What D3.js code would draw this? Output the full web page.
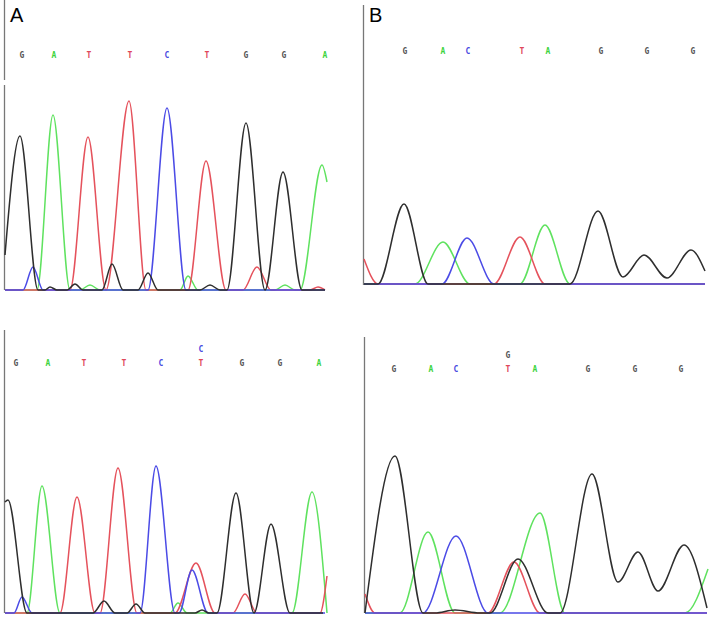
<!DOCTYPE html>
<html>
<head>
<meta charset="utf-8">
<script src="https://cdn.jsdelivr.net/npm/d3@7"></script>
<style>
	body { margin: 0; background: #fff; }
	svg { display: block; }
</style>
</head>
<body>
<div id="container"></div>
<script>
// trace vertices: [scan, signal]
// panel A, top (wild type)
var aTopG = [[0,350],[15,1540],[33,0],[40,0],[45,30],[52,0],[62,0],[70,60],[78,0],[97,0],[107,260],[118,0],[133,0],[143,170],[153,0],[195,0],[205,50],[215,0],[222,0],[241,1670],[260,0],[278,1180],[297,0],[320,0]];
var aTopA = [[0,0],[32,0],[48,1750],[65,0],[75,0],[85,50],[95,0],[175,0],[183,140],[193,0],[270,0],[280,50],[290,0],[295,0],[317,1250],[322,1080]];
var aTopT = [[0,0],[65,0],[83,1530],[101,0],[124,1890],[141,0],[183,0],[201,1290],[221,0],[238,0],[252,230],[266,0],[305,0],[313,30],[320,0]];
var aTopC = [[0,0],[18,0],[28,230],[38,0],[143,0],[162,1820],[181,0],[320,0]];

// panel B, top
var bTopG = [[0,0],[14,0],[40,800],[64,0],[206,0],[234,730],[259,70],[280,290],[303,60],[327,340],[341,130]];
var bTopA = [[0,0],[51,0],[79,420],[106,0],[156,0],[181,590],[206,0],[341,0]];
var bTopT = [[0,250],[14,0],[130,0],[156,470],[181,0],[341,0]];
var bTopC = [[0,0],[78,0],[103,460],[130,0],[341,0]];

// panel A, bottom (heterozygous C/T)
var aBotG = [[0,1110],[3,1130],[22,0],[88,0],[99,120],[110,0],[122,0],[131,90],[140,0],[190,0],[197,30],[204,0],[212,0],[231,1200],[249,0],[266,890],[285,0],[318,0]];
var aBotA = [[0,0],[22,0],[37,1270],[55,0],[165,0],[173,100],[182,0],[287,0],[307,1210],[322,0]];
var aBotT = [[0,0],[55,0],[72,1160],[90,0],[95,0],[113,1450],[132,0],[170,0],[191,500],[210,0],[228,0],[240,190],[252,0],[315,0],[322,370]];
var aBotC = [[0,0],[9,0],[17,160],[27,0],[135,0],[151,1470],[170,0],[174,0],[187,430],[203,0],[320,0]];

// panel B, bottom (heterozygous G/T)
var bBotG = [[0,0],[30,1570],[58,0],[70,0],[90,30],[115,0],[125,0],[153,540],[183,0],[195,0],[227,1390],[253,310],[273,610],[293,220],[319,680],[342,50]];
var bBotA = [[0,0],[35,0],[63,810],[90,0],[135,0],[175,1000],[200,0],[320,0],[343,440]];
var bBotT = [[0,190],[10,0],[123,0],[149,510],[175,0],[342,0]];
var bBotC = [[0,0],[58,0],[91,770],[123,0],[342,0]];

// base calls: scan position and base
var aTopCallPos = [17,49,84,125,162,202,241,279,320];
var aTopCalls = ["G","A","T","T","C","T","G","G","A"];
var bTopCallPos = [41,79,104,158,184,237,283,329];
var bTopCalls = ["G","A","C","T","A","G","G","G"];
var aBotCallPos = [11,43,79,119,156,196,237,275,314];
var aBotCalls = ["G","A","T","T","C","T","G","G","A"];
var bBotCallPos = [29,66,91,143,170,223,270,316];
var bBotCalls = ["G","A","C","T","A","G","G","G"];
// secondary calls [index in call list, base]
var aBotSecond = [[5,"C"]];
var bBotSecond = [[3,"G"]];

var traceColor = { G: "#2e2e2e", A: "#5fe25f", T: "#e5525c", C: "#4b4be6" };
var callColor = { G: "#555555", A: "#3ed43e", T: "#e0485a", C: "#4a4ae0" };

function load() {
	var width = 711, height = 622;

	var svg = d3.select("#container")
		.append("svg")
		.attr("width", width)
		.attr("height", height);

	// panel layout
	var panels = [
		{ x0: 5, base: 290, callY: 58, axis: [[0, 80], [85, 290]], traces: { A: aTopA, T: aTopT, C: aTopC, G: aTopG }, pos: aTopCallPos, calls: aTopCalls, second: [] },
		{ x0: 364, base: 284, callY: 54, axis: [[5, 285]], traces: { A: bTopA, T: bTopT, C: bTopC, G: bTopG }, pos: bTopCallPos, calls: bTopCalls, second: [] },
		{ x0: 5, base: 613, callY: 366, axis: [[330, 613]], traces: { A: aBotA, T: aBotT, C: aBotC, G: aBotG }, pos: aBotCallPos, calls: aBotCalls, second: aBotSecond },
		{ x0: 365, base: 613, callY: 372, axis: [[337, 613]], traces: { A: bBotA, T: bBotT, C: bBotC, G: bBotG }, pos: bBotCallPos, calls: bBotCalls, second: bBotSecond }
	];

	panels.forEach(function(p) {
		var xScale = d3.scaleLinear().domain([0, 350]).range([p.x0, p.x0 + 350]);
		var yScale = d3.scaleLinear().domain([0, 2000]).range([p.base, p.base - 200]);

		var g = svg.append("g");

		// left axis line
		p.axis.forEach(function(seg) {
			g.append("line")
				.attr("x1", p.x0 - 0.5).attr("x2", p.x0 - 0.5)
				.attr("y1", seg[0]).attr("y2", seg[1])
				.attr("stroke", "#777")
				.attr("stroke-width", 1.3);
		});

		var line = d3.line()
			.x(function(d) { return xScale(d[0]); })
			.y(function(d) { return yScale(d[1]); })
			.curve(d3.curveMonotoneX);

		// traces
		["A", "T", "C", "G"].forEach(function(b) {
			g.append("path")
				.datum(p.traces[b])
				.attr("d", line)
				.attr("fill", "none")
				.attr("stroke", traceColor[b])
				.attr("stroke-width", 1.5)
				.attr("stroke-linejoin", "round");
		});

		// base calls
		g.selectAll(".call")
			.data(p.calls)
			.enter().append("text")
			.attr("x", function(d, i) { return xScale(p.pos[i]); })
			.attr("y", p.callY)
			.attr("text-anchor", "middle")
			.style("font-family", "'DejaVu Sans Mono', monospace")
			.style("font-size", "8px")
			.style("font-weight", "bold")
			.attr("fill", function(d) { return callColor[d]; })
			.text(function(d) { return d; });

		g.selectAll(".second")
			.data(p.second)
			.enter().append("text")
			.attr("x", function(d) { return xScale(p.pos[d[0]]); })
			.attr("y", p.callY - 14)
			.attr("text-anchor", "middle")
			.style("font-family", "'DejaVu Sans Mono', monospace")
			.style("font-size", "8px")
			.style("font-weight", "bold")
			.attr("fill", function(d) { return callColor[d[1]]; })
			.text(function(d) { return d[1]; });
	});

	// panel letters
	svg.append("text").attr("x", 10).attr("y", 22)
		.style("font-family", "'Liberation Sans', Arial, sans-serif")
		.style("font-size", "20px").text("A");
	svg.append("text").attr("x", 369).attr("y", 22)
		.style("font-family", "'Liberation Sans', Arial, sans-serif")
		.style("font-size", "20px").text("B");
}
load();
</script>
</body>
</html>
